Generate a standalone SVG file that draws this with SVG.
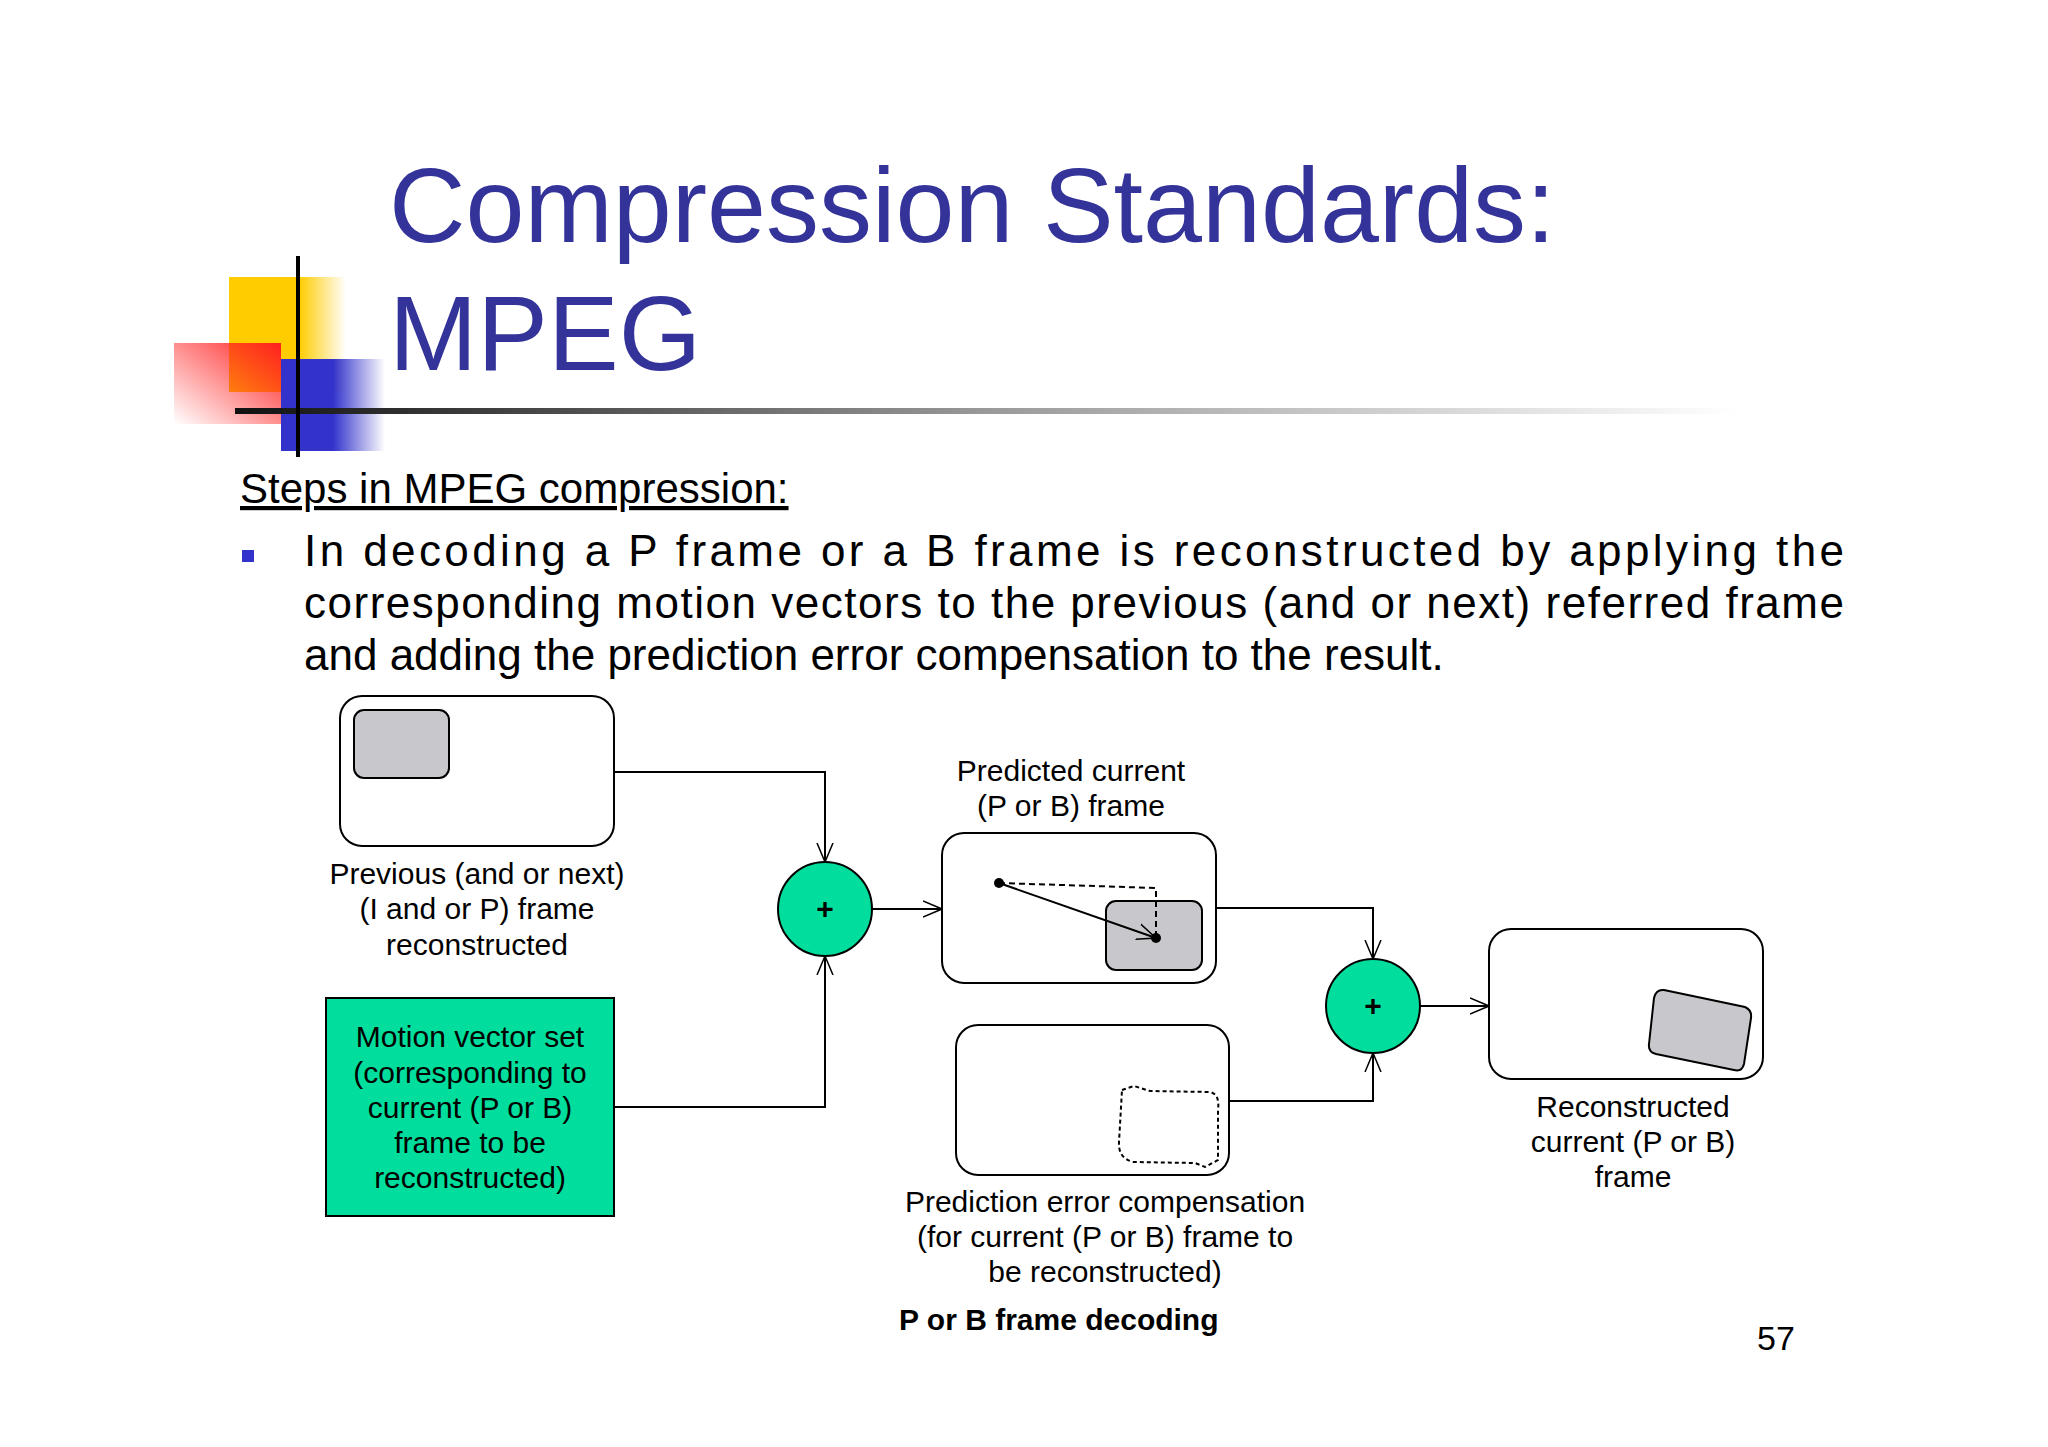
<svg xmlns="http://www.w3.org/2000/svg" width="2048" height="1447" viewBox="0 0 2048 1447">
<defs>
<linearGradient id="hl" x1="0" x2="1" y1="0" y2="0"><stop offset="0" stop-color="#111"/><stop offset="0.5" stop-color="#999"/><stop offset="1" stop-color="#fff"/></linearGradient>
<linearGradient id="yg" x1="0" x2="1"><stop offset="0.6" stop-color="#ffcc00"/><stop offset="1" stop-color="#ffcc00" stop-opacity="0"/></linearGradient>
<linearGradient id="rg" x1="1" x2="0" y1="0" y2="1"><stop offset="0" stop-color="#ff2020"/><stop offset="1" stop-color="#ff2020" stop-opacity="0"/></linearGradient>
<linearGradient id="bg" x1="0" x2="1"><stop offset="0.5" stop-color="#3333cc"/><stop offset="1" stop-color="#3333cc" stop-opacity="0"/></linearGradient>
<marker id="ar" viewBox="0 0 20 20" refX="19" refY="10" markerWidth="20" markerHeight="20" markerUnits="userSpaceOnUse" orient="auto"><path d="M0,2 L19,10 L0,18" fill="none" stroke="#000" stroke-width="1.5"/></marker>
<style>
.t{font-family:"Liberation Sans",Arial,sans-serif;fill:#000}
.lbl{font-size:30px;text-anchor:middle}
.frame{fill:#fff;stroke:#000;stroke-width:2}
.gray{fill:#c8c8cc;stroke:#000;stroke-width:2}
.sum{fill:#00dd9c;stroke:#000;stroke-width:2}
.c{fill:none;stroke:#000;stroke-width:2}
</style>
</defs>
<rect width="2048" height="1447" fill="#fff"/>
<rect x="229" y="277" width="117" height="115" fill="url(#yg)"/>
<rect x="174" y="343" width="107" height="81" fill="url(#rg)"/>
<rect x="281" y="359" width="104" height="92" fill="url(#bg)"/>
<rect x="235" y="408" width="1502" height="6" fill="url(#hl)"/>
<line x1="298" y1="256" x2="298" y2="457" stroke="#000" stroke-width="4"/>
<text class="t" x="389" y="242" font-size="106" style="fill:#333399">Compression Standards:</text>
<text class="t" x="389" y="370" font-size="106" style="fill:#333399">MPEG</text>
<text class="t" x="240" y="503" font-size="42" text-decoration="underline">Steps in MPEG compression:</text>
<rect x="242" y="550" width="12" height="12" fill="#3333cc"/>
<text class="t" x="304" y="566" font-size="44" textLength="1540" lengthAdjust="spacing">In decoding a P frame or a B frame is reconstructed by applying the</text>
<text class="t" x="304" y="618" font-size="44" textLength="1540" lengthAdjust="spacing">corresponding motion vectors to the previous (and or next) referred frame</text>
<text class="t" x="304" y="670" font-size="44">and adding the prediction error compensation to the result.</text>

<g id="connectors">
<polyline class="c" points="614,772 825,772 825,862" marker-end="url(#ar)"/>
<polyline class="c" points="614,1107 825,1107 825,956" marker-end="url(#ar)"/>
<line class="c" x1="872" y1="909" x2="942" y2="909" marker-end="url(#ar)"/>
<polyline class="c" points="1216,908 1373,908 1373,959" marker-end="url(#ar)"/>
<polyline class="c" points="1229,1101 1373,1101 1373,1053" marker-end="url(#ar)"/>
<line class="c" x1="1420" y1="1006" x2="1489" y2="1006" marker-end="url(#ar)"/>
</g>

<g id="prev">
<rect class="frame" x="340" y="696" width="274" height="150" rx="22"/>
<rect class="gray" x="354" y="710" width="95" height="68" rx="10"/>
<text class="t lbl" x="477" y="884">Previous (and or next)</text>
<text class="t lbl" x="477" y="919">(I and or P) frame</text>
<text class="t lbl" x="477" y="955">reconstructed</text>
</g>
<g id="mv">
<rect x="326" y="998" width="288" height="218" fill="#00dd9c" stroke="#000" stroke-width="2"/>
<text class="t lbl" x="470" y="1047">Motion vector set</text>
<text class="t lbl" x="470" y="1083">(corresponding to</text>
<text class="t lbl" x="470" y="1118">current (P or B)</text>
<text class="t lbl" x="470" y="1153">frame to be</text>
<text class="t lbl" x="470" y="1188">reconstructed)</text>
</g>
<g id="sum1"><circle class="sum" cx="825" cy="909" r="47"/><text class="t lbl" x="825" y="919" font-weight="bold">+</text></g>
<g id="pred">
<text class="t lbl" x="1071" y="781">Predicted current</text>
<text class="t lbl" x="1071" y="816">(P or B) frame</text>
<rect class="frame" x="942" y="833" width="274" height="150" rx="22"/>
<rect class="gray" x="1106" y="901" width="96" height="69" rx="10"/>
<polyline points="999,883 1156,888 1156,938" fill="none" stroke="#000" stroke-width="2" stroke-dasharray="6,4"/>
<line x1="999" y1="883" x2="1156" y2="938" stroke="#000" stroke-width="2" marker-end="url(#ar)"/>
<circle cx="999" cy="883" r="5"/><circle cx="1156" cy="938" r="5"/>
</g>
<g id="sum2"><circle class="sum" cx="1373" cy="1006" r="47"/><text class="t lbl" x="1373" y="1016" font-weight="bold">+</text></g>
<g id="err">
<rect class="frame" x="956" y="1025" width="273" height="150" rx="22"/>
<path d="M1122,1090 L1134,1086 L1150,1091 L1210,1092 Q1220,1094 1218,1110 L1218,1160 L1205,1167 L1195,1163 L1133,1162 Q1118,1158 1119,1142 Z" fill="#fff" stroke="#000" stroke-width="2" stroke-dasharray="4,3"/>
<text class="t lbl" x="1105" y="1212">Prediction error compensation</text>
<text class="t lbl" x="1105" y="1247">(for current (P or B) frame to</text>
<text class="t lbl" x="1105" y="1282">be reconstructed)</text>
</g>
<g id="recon">
<rect class="frame" x="1489" y="929" width="274" height="150" rx="22"/>
<path class="gray" d="M1664,990 L1745,1007 Q1752,1010 1751,1018 L1744,1064 Q1742,1072 1734,1070 L1656,1054 Q1648,1052 1649,1044 L1654,998 Q1656,989 1664,990 Z"/>
<text class="t lbl" x="1633" y="1117">Reconstructed</text>
<text class="t lbl" x="1633" y="1152">current (P or B)</text>
<text class="t lbl" x="1633" y="1187">frame</text>
</g>
<text class="t" x="899" y="1330" font-size="30" font-weight="bold">P or B frame decoding</text>
<text class="t" x="1757" y="1350" font-size="34">57</text>
</svg>
